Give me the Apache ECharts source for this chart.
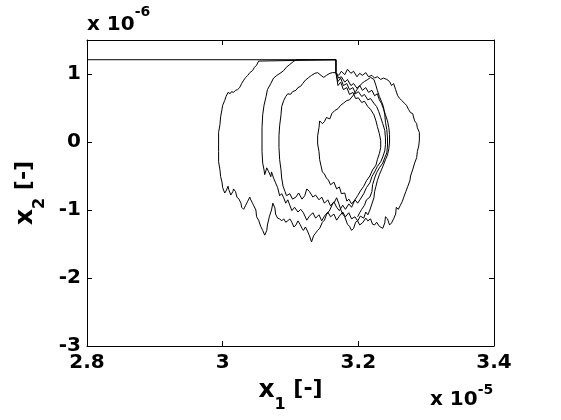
<!DOCTYPE html>
<html><head><meta charset="utf-8">
<script src="https://cdn.jsdelivr.net/npm/echarts@6/dist/echarts.min.js"></script>
<style>html,body{margin:0;padding:0;background:#fff}#c{width:561px;height:420px}</style>
</head><body><div id="c"></div>
<script>
// x1 in units of 1e-5, x2 in units of 1e-6
const xRange = [2.8, 3.4];
const xStep = 0.2;
const yRange = [-3, 1.5];
const yStep = 1;
const xExponent = '-5';
const yExponent = '-6';

const startSeg = [[2.8,1.21],[3.167,1.21],[3.167,1.02]];

const loop1 = [[3.171,0.98],[3.175,1.04],[3.180,0.99],[3.184,1.07],[3.189,1.01],[3.193,1.04],[3.198,0.96],[3.202,1.01],[3.206,0.98],[3.211,1.02],[3.215,0.96],[3.220,0.98],[3.224,0.94],[3.228,0.96],[3.233,0.92],[3.237,0.94],[3.242,0.92],[3.246,0.89],[3.249,0.83],[3.252,0.86],[3.255,0.77],[3.258,0.68],[3.261,0.64],[3.264,0.61],[3.268,0.57],[3.271,0.54],[3.274,0.48],[3.277,0.43],[3.280,0.42],[3.283,0.31],[3.286,0.27],[3.287,0.21],[3.290,0.14],[3.290,0.03],[3.289,-0.06],[3.287,-0.14],[3.286,-0.23],[3.283,-0.31],[3.280,-0.41],[3.277,-0.50],[3.276,-0.57],[3.273,-0.65],[3.270,-0.73],[3.267,-0.81],[3.265,-0.87],[3.262,-0.93],[3.259,-0.99],[3.256,-0.96],[3.255,-1.06],[3.252,-1.13],[3.249,-1.19],[3.246,-1.22],[3.243,-1.13],[3.240,-1.10],[3.239,-1.19],[3.236,-1.27],[3.231,-1.24],[3.227,-1.18],[3.224,-1.22],[3.221,-1.21],[3.218,-1.13],[3.214,-1.16],[3.211,-1.12],[3.206,-1.19],[3.202,-1.22],[3.199,-1.16],[3.196,-1.18],[3.193,-1.27],[3.190,-1.30],[3.187,-1.24],[3.184,-1.21],[3.180,-1.10],[3.177,-1.06],[3.174,-0.99],[3.171,-0.90],[3.168,-0.82],[3.165,-0.88],[3.162,-0.91],[3.158,-1.00],[3.153,-1.07],[3.150,-1.15],[3.147,-1.18],[3.143,-1.27],[3.140,-1.30],[3.137,-1.34],[3.134,-1.38],[3.131,-1.47],[3.128,-1.38],[3.125,-1.31],[3.122,-1.25],[3.119,-1.30],[3.117,-1.27],[3.114,-1.21],[3.111,-1.16],[3.108,-1.22],[3.105,-1.25],[3.102,-1.18],[3.099,-1.13],[3.096,-1.16],[3.093,-1.18],[3.090,-1.13],[3.087,-1.16],[3.084,-1.13],[3.081,-1.12],[3.078,-1.06],[3.077,-0.97],[3.074,-0.90],[3.072,-1.00],[3.069,-1.09],[3.066,-1.22],[3.065,-1.30],[3.062,-1.37],[3.059,-1.30],[3.056,-1.24],[3.053,-1.15],[3.050,-1.10],[3.049,-1.00],[3.046,-0.94],[3.044,-0.90],[3.041,-0.84],[3.040,-0.81],[3.037,-0.87],[3.034,-0.93],[3.031,-0.99],[3.028,-0.96],[3.027,-0.90],[3.024,-0.84],[3.021,-0.81],[3.019,-0.73],[3.016,-0.69],[3.015,-0.73],[3.012,-0.78],[3.009,-0.70],[3.008,-0.65],[3.005,-0.72],[3.003,-0.75],[3.000,-0.67],[2.999,-0.59],[2.997,-0.51],[2.996,-0.41],[2.994,-0.29],[2.994,-0.14],[2.994,0.00],[2.994,0.14],[2.996,0.26],[2.997,0.37],[2.999,0.48],[3.000,0.54],[3.003,0.61],[3.005,0.67],[3.008,0.73],[3.011,0.71],[3.013,0.74],[3.016,0.73],[3.019,0.76],[3.022,0.77],[3.025,0.80],[3.028,0.86],[3.031,0.91],[3.034,0.95],[3.037,0.98],[3.040,1.02],[3.044,1.05],[3.047,1.10],[3.050,1.13],[3.053,1.19],[3.055,1.21],[3.167,1.21],[3.167,1.02]];

const loop2 = [[3.171,0.94],[3.175,0.96],[3.180,0.88],[3.184,0.92],[3.189,0.83],[3.193,0.86],[3.198,0.79],[3.202,0.83],[3.206,0.76],[3.211,0.80],[3.215,0.73],[3.220,0.76],[3.224,0.68],[3.228,0.71],[3.231,0.62],[3.234,0.57],[3.237,0.49],[3.240,0.40],[3.243,0.31],[3.245,0.21],[3.246,0.11],[3.246,0.00],[3.245,-0.10],[3.243,-0.19],[3.240,-0.26],[3.237,-0.34],[3.234,-0.41],[3.231,-0.48],[3.228,-0.57],[3.226,-0.65],[3.224,-0.73],[3.223,-0.82],[3.220,-0.91],[3.217,-1.00],[3.214,-1.07],[3.211,-1.03],[3.208,-1.12],[3.203,-1.09],[3.199,-1.16],[3.195,-1.10],[3.190,-1.13],[3.186,-1.04],[3.181,-1.10],[3.177,-1.03],[3.172,-1.09],[3.168,-1.15],[3.164,-1.06],[3.159,-1.10],[3.155,-1.03],[3.150,-1.09],[3.146,-1.16],[3.142,-1.07],[3.137,-1.12],[3.133,-1.04],[3.128,-1.09],[3.124,-1.15],[3.119,-1.04],[3.115,-0.99],[3.111,-1.03],[3.106,-0.96],[3.102,-1.01],[3.099,-0.93],[3.096,-0.85],[3.093,-0.90],[3.090,-0.82],[3.087,-0.76],[3.084,-0.79],[3.081,-0.67],[3.078,-0.60],[3.075,-0.53],[3.072,-0.44],[3.071,-0.51],[3.068,-0.44],[3.065,-0.38],[3.062,-0.48],[3.061,-0.41],[3.059,-0.31],[3.058,-0.14],[3.058,0.03],[3.058,0.21],[3.059,0.40],[3.061,0.54],[3.064,0.67],[3.066,0.77],[3.071,0.86],[3.075,0.94],[3.080,0.98],[3.086,1.02],[3.090,1.05],[3.094,1.10],[3.099,1.14],[3.105,1.19],[3.109,1.21],[3.167,1.21],[3.167,1.02]];

const loop3 = [[3.170,0.89],[3.174,0.94],[3.178,0.83],[3.183,0.86],[3.187,0.77],[3.192,0.80],[3.196,0.71],[3.200,0.74],[3.205,0.67],[3.209,0.70],[3.214,0.62],[3.218,0.64],[3.223,0.57],[3.227,0.52],[3.230,0.45],[3.233,0.36],[3.236,0.27],[3.239,0.17],[3.240,0.06],[3.240,-0.04],[3.239,-0.13],[3.236,-0.22],[3.233,-0.29],[3.228,-0.36],[3.224,-0.44],[3.220,-0.51],[3.217,-0.60],[3.212,-0.67],[3.208,-0.76],[3.203,-0.84],[3.199,-0.90],[3.195,-0.85],[3.190,-0.96],[3.186,-0.91],[3.181,-0.99],[3.177,-0.93],[3.172,-1.01],[3.168,-0.96],[3.164,-0.88],[3.159,-0.94],[3.155,-0.85],[3.150,-0.90],[3.146,-0.81],[3.142,-0.85],[3.137,-0.78],[3.133,-0.81],[3.128,-0.73],[3.124,-0.69],[3.121,-0.79],[3.117,-0.84],[3.112,-0.75],[3.108,-0.81],[3.103,-0.84],[3.099,-0.76],[3.094,-0.79],[3.092,-0.73],[3.089,-0.65],[3.087,-0.53],[3.086,-0.41],[3.084,-0.26],[3.083,-0.08],[3.083,0.09],[3.084,0.24],[3.086,0.40],[3.087,0.52],[3.090,0.61],[3.093,0.67],[3.096,0.71],[3.100,0.70],[3.103,0.74],[3.108,0.76],[3.111,0.80],[3.115,0.82],[3.118,0.86],[3.122,0.91],[3.127,0.95],[3.131,0.98],[3.136,1.01],[3.140,1.02],[3.145,0.98],[3.149,0.95],[3.153,0.98],[3.158,1.01],[3.162,1.02],[3.167,1.02]];

const loop4 = [[3.170,0.83],[3.174,0.88],[3.178,0.77],[3.183,0.80],[3.187,0.70],[3.192,0.73],[3.196,0.64],[3.200,0.65],[3.205,0.58],[3.209,0.60],[3.214,0.52],[3.218,0.48],[3.223,0.40],[3.226,0.31],[3.228,0.23],[3.231,0.12],[3.233,0.02],[3.233,-0.08],[3.231,-0.17],[3.228,-0.26],[3.226,-0.34],[3.221,-0.41],[3.217,-0.50],[3.212,-0.57],[3.208,-0.65],[3.203,-0.72],[3.199,-0.79],[3.195,-0.85],[3.190,-0.91],[3.186,-0.84],[3.183,-0.87],[3.180,-0.75],[3.175,-0.76],[3.172,-0.66],[3.168,-0.69],[3.164,-0.59],[3.159,-0.63],[3.156,-0.56],[3.153,-0.53],[3.150,-0.47],[3.147,-0.44],[3.145,-0.35],[3.143,-0.26],[3.142,-0.14],[3.140,-0.03],[3.140,0.09],[3.142,0.21],[3.143,0.31],[3.147,0.27],[3.150,0.30],[3.153,0.36],[3.158,0.34],[3.161,0.42],[3.165,0.46],[3.170,0.49],[3.174,0.54],[3.178,0.57],[3.183,0.61],[3.187,0.62],[3.192,0.68],[3.196,0.74],[3.200,0.80],[3.205,0.86],[3.209,0.89],[3.214,0.92],[3.218,0.95],[3.223,0.92],[3.226,0.83],[3.228,0.76],[3.231,0.67],[3.234,0.60],[3.237,0.52],[3.239,0.40],[3.240,0.29],[3.242,0.18],[3.243,0.06],[3.243,-0.06],[3.242,-0.16],[3.239,-0.23],[3.236,-0.31],[3.231,-0.38],[3.227,-0.45],[3.224,-0.53],[3.221,-0.63],[3.220,-0.73],[3.217,-0.81],[3.212,-0.85],[3.209,-0.93],[3.205,-0.99],[3.202,-1.04],[3.199,-1.10]];

const trajectory = [].concat(startSeg, loop1, loop2, loop3, loop4);

const FONT = "'DejaVu Sans', 'Liberation Sans', Arial, sans-serif";
const labelStyle = {color:'#000', fontSize:20, fontWeight:'bold', fontFamily:FONT};
const nameRich = {
  v: {color:'#000', fontSize:25, fontWeight:'bold', fontFamily:FONT, lineHeight:24, verticalAlign:'top'},
  b: {color:'#000', fontSize:22, fontWeight:'bold', fontFamily:FONT, lineHeight:24, verticalAlign:'top'},
  s: {color:'#000', fontSize:16, fontWeight:'bold', fontFamily:FONT, lineHeight:16, padding:[19,0,0,0], verticalAlign:'top'}
};
const axisLine = {show:true, onZero:false, lineStyle:{color:'#000', width:1}};
const tick = {show:true, inside:true, length:5, lineStyle:{color:'#000', width:1}};

const chart = echarts.init(document.getElementById('c'), null, {renderer:'canvas'});
chart.setOption({
  animation:false,
  backgroundColor:'#fff',
  grid:{left:87, right:67, top:40, bottom:74, show:false, containLabel:false},
  xAxis:[
    {type:'value', min:xRange[0], max:xRange[1], interval:xStep, position:'bottom',
     axisLine:axisLine, axisTick:tick, splitLine:{show:false},
     axisLabel:Object.assign({margin:7, showMaxLabel:true, showMinLabel:true}, labelStyle),
     name:'{v|x}{s|1}{b| [-]}', nameLocation:'middle', nameGap:28,
     nameTextStyle:{rich:nameRich}},
    {type:'value', min:xRange[0], max:xRange[1], interval:xStep, position:'top',
     axisLine:axisLine, axisTick:tick, splitLine:{show:false}, axisLabel:{show:false}}
  ],
  yAxis:[
    {type:'value', min:yRange[0], max:yRange[1], interval:yStep, position:'left',
     axisLine:axisLine, axisTick:tick, splitLine:{show:false},
     axisLabel:Object.assign({margin:6, showMaxLabel:false,
        formatter:v => (v > 1.01 ? '' : String(v))}, labelStyle),
     name:'{v|x}{s|2}{b| [-]}', nameLocation:'middle', nameGap:37,
     nameTextStyle:{rich:nameRich}},
    {type:'value', min:yRange[0], max:yRange[1], interval:yStep, position:'right',
     axisLine:axisLine, axisTick:tick, splitLine:{show:false}, axisLabel:{show:false}}
  ],
  graphic:[
    {type:'text', left:87, top:5, style:{text:'{a|x 10}{e|' + yExponent + '}',
      rich:{a:{fontSize:20, fontWeight:'bold', fontFamily:FONT, fill:'#000', lineHeight:20, padding:[10,0,0,0], verticalAlign:'top'},
            e:{fontSize:14, fontWeight:'bold', fontFamily:FONT, fill:'#000', lineHeight:14, verticalAlign:'top'}}}},
    {type:'text', left:430, top:383, style:{text:'{a|x 10}{e|' + xExponent + '}',
      rich:{a:{fontSize:20, fontWeight:'bold', fontFamily:FONT, fill:'#000', lineHeight:20, padding:[7,0,0,0], verticalAlign:'top'},
            e:{fontSize:14, fontWeight:'bold', fontFamily:FONT, fill:'#000', lineHeight:14, verticalAlign:'top'}}}}
  ],
  series:[{type:'line', data:trajectory, xAxisIndex:0, yAxisIndex:0, symbol:'none',
    lineStyle:{color:'#000', width:1}, clip:true}]
});
</script></body></html>
